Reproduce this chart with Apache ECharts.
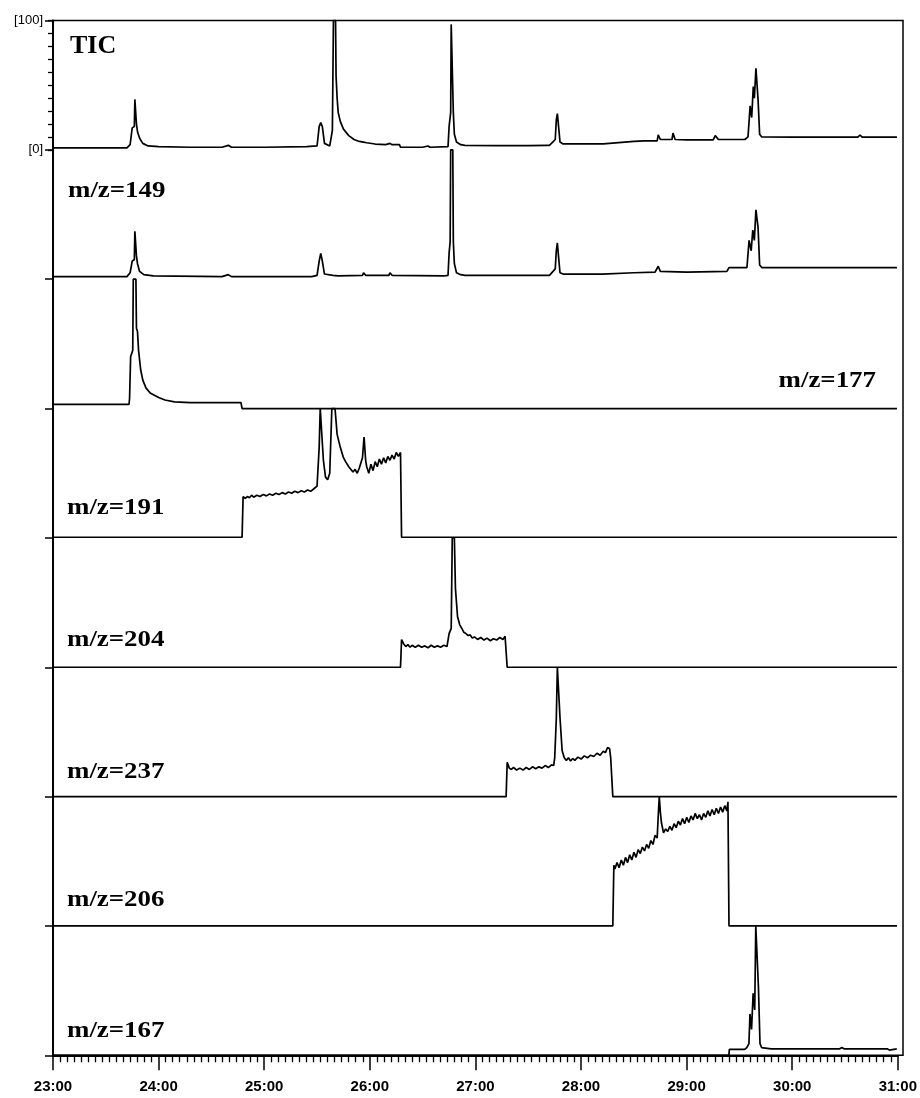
<!DOCTYPE html>
<html><head><meta charset="utf-8">
<script src="https://cdn.jsdelivr.net/npm/echarts@6/dist/echarts.min.js"></script>
<style>html,body{margin:0;padding:0;background:#fff}#c{width:920px;height:1098px}</style>
</head><body><div id="c"></div>
<script>
// ---------- DATA (time in minutes, relative intensity 0-100 per panel) ----------
const xTickLabels = ['23:00','24:00','25:00','26:00','27:00','28:00','29:00','30:00','31:00'];
const yTickLabels = ['[0]','[100]'];
const panelNames = ['TIC','m/z=149','m/z=177','m/z=191','m/z=204','m/z=237','m/z=206','m/z=167'];

const TIC = [[23.00,1.5],[23.40,1.5],[23.70,1.5],[23.73,4],[23.75,17],[23.77,18],[23.775,39],[23.785,39],[23.79,20],[23.80,14],[23.82,9],[23.85,5],[23.90,3],[24.00,2.5],[24.30,2],[24.60,2],[24.66,3.5],[24.69,2],[25.00,2],[25.40,2.5],[25.50,3],[25.52,18],[25.535,21],[25.55,18],[25.57,5],[25.62,3],[25.645,15],[25.655,100],[25.675,100],[25.68,57],[25.69,40],[25.70,29],[25.72,22],[25.75,16],[25.80,11],[25.85,8],[25.90,6.5],[25.94,6],[25.95,7.5],[25.97,5.5],[26.05,4.5],[26.15,4],[26.19,5],[26.21,4],[26.28,4],[26.29,2],[26.50,2],[26.55,3],[26.57,2],[26.74,2.5],[26.75,18],[26.765,29],[26.77,97],[26.78,97],[26.79,29],[26.80,12],[26.82,6],[26.86,4],[26.90,3.5],[27.20,3.3],[27.50,3.3],[27.68,3.5],[27.69,4.5],[27.70,3.5],[27.755,8],[27.765,23],[27.775,28],[27.785,28],[27.79,15],[27.80,6],[27.83,4.6],[28.21,4.6],[28.22,6],[28.50,6.5],[28.60,7],[28.72,7],[28.73,11.6],[28.75,8],[28.86,8],[28.87,13],[28.89,8],[29.00,7.7],[29.25,7.7],[29.27,11],[29.30,8],[29.55,8],[29.58,10],[29.60,34],[29.615,25],[29.63,49],[29.64,40],[29.655,63],[29.665,63],[29.675,39],[29.69,12],[29.71,10],[30.00,9.8],[30.62,9.8],[30.64,11.5],[30.66,9.8],[30.99,9.8]];

const MZ149 = [[23.00,2],[23.70,2],[23.73,5],[23.75,14],[23.77,15],[23.775,37],[23.785,37],[23.79,18],[23.80,12],[23.82,6],[23.86,3.5],[23.95,2.5],[24.60,2],[24.66,3.5],[24.69,2],[25.45,2],[25.50,3],[25.52,14],[25.535,20],[25.55,14],[25.57,4],[25.65,3],[25.70,2.5],[25.93,3],[25.94,5],[25.96,3],[26.18,3],[26.19,5],[26.21,3],[26.70,2.5],[26.74,3],[26.75,20],[26.76,29],[26.765,100],[26.785,100],[26.79,29],[26.80,12],[26.82,5],[26.86,3.5],[26.90,3],[27.20,3],[27.50,3],[27.70,3],[27.755,8],[27.765,22],[27.775,28],[27.785,28],[27.79,14],[27.80,5],[27.83,4],[28.20,4],[28.50,5],[28.70,5.5],[28.73,10],[28.75,6],[29.00,5.5],[29.38,6],[29.40,9],[29.57,9],[29.59,30],[29.61,22],[29.625,38],[29.64,30],[29.655,53.6],[29.665,53.6],[29.675,40],[29.69,11],[29.71,9],[30.00,9],[30.50,9],[30.99,9]];

const MZ177 = [[23.00,3.3],[23.30,3.3],[23.72,3.3],[23.725,8],[23.735,40],[23.755,45],[23.76,100],[23.785,100],[23.79,62],[23.80,59.5],[23.81,45],[23.83,30],[23.85,22],[23.88,16],[23.92,12],[24.00,8.5],[24.06,6.6],[24.15,5.2],[24.30,4.6],[24.60,4.6],[24.78,4.6],[24.79,0],[30.99,0]];

const MZ191 = [[23.00,0.5],[24.79,0.5],[24.80,32],[24.82,30.5],[24.84,32],[24.86,31],[24.88,33],[24.90,31.5],[24.93,33],[24.96,32],[24.99,33.5],[25.02,32.5],[25.05,34],[25.08,33],[25.11,34.5],[25.14,33.5],[25.17,35],[25.20,34],[25.23,35.5],[25.26,34.5],[25.29,36],[25.32,35],[25.35,36.5],[25.38,35.5],[25.41,37],[25.44,36],[25.47,38],[25.50,40],[25.52,70],[25.53,100],[25.545,100],[25.56,60],[25.58,47],[25.60,45],[25.62,50],[25.64,100],[25.67,100],[25.69,80],[25.72,70],[25.75,62],[25.77,59],[25.80,55],[25.84,51],[25.86,53],[25.88,50],[25.90,54],[25.93,62],[25.945,78],[25.96,60],[25.97,55],[25.99,50],[26.01,57],[26.03,52],[26.05,59],[26.07,55],[26.09,61],[26.11,57],[26.13,62],[26.15,58],[26.17,63],[26.19,60],[26.21,64],[26.23,61],[26.25,66],[26.27,63],[26.29,66],[26.30,0.5],[30.99,0.5]];

const MZ204 = [[23.00,0],[26.29,0],[26.30,21.4],[26.32,18],[26.34,16],[26.36,17.5],[26.38,15.5],[26.40,17],[26.43,15.5],[26.46,17],[26.49,15.5],[26.52,16.5],[26.55,15],[26.58,17],[26.61,15.5],[26.64,16.5],[26.67,15.5],[26.70,17],[26.73,16],[26.75,26],[26.77,30],[26.78,100],[26.80,100],[26.81,61],[26.83,39],[26.85,33],[26.87,30],[26.89,27],[26.91,26],[26.93,24.5],[26.95,25],[26.97,22.5],[26.99,23.5],[27.02,21.5],[27.05,23],[27.08,21],[27.11,22.5],[27.14,20.5],[27.17,22],[27.20,21],[27.23,23],[27.26,21.5],[27.28,24],[27.29,12],[27.30,0],[30.99,0]];

const MZ237 = [[23.00,0],[27.29,0],[27.30,26.5],[27.32,22],[27.34,21],[27.36,22.5],[27.39,20.5],[27.42,22],[27.45,20.5],[27.48,22.5],[27.51,21],[27.54,23],[27.57,21.5],[27.60,23],[27.63,22],[27.66,24],[27.69,22.5],[27.72,24.5],[27.74,24],[27.75,30],[27.765,60],[27.775,100],[27.79,100],[27.80,61],[27.82,35.6],[27.84,30],[27.86,28],[27.88,30],[27.90,27.5],[27.92,29.5],[27.94,28],[27.97,30.5],[28.00,29],[28.03,31.5],[28.06,30],[28.09,32],[28.12,31],[28.15,33.5],[28.18,32],[28.21,35],[28.23,34],[28.25,38],[28.27,37],[28.28,30],[28.30,0],[30.99,0]];

const MZ206 = [[23.00,0],[28.30,0],[28.305,24],[28.31,47],[28.32,44],[28.34,49],[28.36,45],[28.38,51],[28.40,47],[28.42,53],[28.44,49],[28.46,55],[28.48,51],[28.50,57],[28.52,53],[28.54,59],[28.56,56],[28.58,61],[28.60,58],[28.62,63],[28.64,60],[28.66,66],[28.68,63],[28.70,70],[28.72,68],[28.73,85],[28.74,100],[28.75,88],[28.76,80],[28.78,72],[28.80,75],[28.82,73],[28.84,77],[28.86,74],[28.88,79],[28.90,76],[28.92,81],[28.94,78],[28.96,83],[28.98,79],[29.00,84],[29.02,80],[29.04,85],[29.06,82],[29.08,87],[29.10,83],[29.12,86],[29.14,82],[29.16,87],[29.18,84],[29.20,89],[29.22,85],[29.24,90],[29.26,86],[29.28,91],[29.30,87],[29.32,92],[29.34,88],[29.36,93],[29.38,89],[29.39,96],[29.40,0],[30.99,0]];

const MZ167 = [[23.00,0],[29.40,0],[29.405,4.6],[29.55,4.6],[29.57,6],[29.59,9],[29.60,32],[29.615,20],[29.63,48],[29.645,35],[29.655,100],[29.67,100],[29.68,53],[29.695,9],[29.71,6],[29.80,5],[30.20,5],[30.45,5],[30.47,6],[30.49,5],[30.90,5],[30.92,4],[30.99,5]];

// ---------- LAYOUT / STYLE ----------
const traces = [TIC, MZ149, MZ177, MZ191, MZ204, MZ237, MZ206, MZ167];
const LEFT = 53, TOP = 20.5, PH = 129.35, W = 845;
const labelX = [70, 68, 876, 67, 67, 67, 67, 67];
const labelAlign = ['left','left','right','left','left','left','left','left'];
const labelDy = [25.5, 41, 101.8, 99.4, 101.4, 104.4, 103.4, 104.4]; // offset from panel top
const N = traces.length;

const grids = [], xAxes = [], yAxes = [], series = [], graphics = [];
for (let i = 0; i < N; i++) {
  grids.push({left: LEFT, top: TOP + PH * i, width: W, height: PH});
  const last = i === N - 1;
  xAxes.push({
    type: 'value', gridIndex: i, min: 23, max: 31, interval: 1,
    show: last,
    axisLine: {show: last, onZero: false, lineStyle: {color: '#000', width: 2}},
    axisTick: {show: last, length: 15, lineStyle: {color: '#000', width: 1.5}},
    minorTick: {show: last, splitNumber: 15, length: 7, lineStyle: {color: '#000', width: 1.3}},
    axisLabel: {show: last, margin: 24, fontFamily: '"Liberation Sans", Arial, sans-serif', fontWeight: 'bold', fontSize: 15, color: '#000',
      formatter: v => xTickLabels[Math.round(v - 23)]},
    splitLine: {show: false}, minorSplitLine: {show: false}
  });
  yAxes.push({
    type: 'value', gridIndex: i, position: 'left', min: 0, max: 100, interval: 100,
    axisLine: {show: true, onZero: false, lineStyle: {color: '#000', width: 2}},
    axisTick: {show: true, length: 8, lineStyle: {color: '#000', width: 1.5}},
    axisLabel: {show: i === 0, margin: 10, fontFamily: '"Liberation Sans", Arial, sans-serif', fontSize: 13, color: '#000',
      formatter: v => yTickLabels[v === 0 ? 0 : 1]},
    splitLine: {show: false}
  });
  series.push({
    type: 'line', xAxisIndex: i, yAxisIndex: i, data: traces[i],
    showSymbol: false, symbol: 'none', clip: false, animation: false,
    lineStyle: {color: '#000', width: 1.7}
  });
  const isTic = i === 0;
  graphics.push({
    type: 'text', x: labelX[i], y: TOP + PH * i + labelDy[i],
    scaleX: isTic ? 1 : 1.12,
    style: {text: panelNames[i], fill: '#000', align: labelAlign[i], verticalAlign: 'middle',
      font: 'bold ' + (isTic ? 26 : 24) + 'px "Liberation Serif", "Times New Roman", serif'}
  });
}
// minor ticks on the TIC intensity axis (left side)
yAxes.push({
  type: 'value', gridIndex: 0, position: 'left', offset: 0, min: 0, max: 100, interval: 10,
  axisLine: {show: false}, axisLabel: {show: false}, splitLine: {show: false},
  axisTick: {show: true, length: 5, lineStyle: {color: '#000', width: 1.3}}
});
// outer frame
grids.push({left: LEFT, top: TOP, width: 850, height: PH * N, show: true,
  borderColor: '#000', borderWidth: 1.5, backgroundColor: 'transparent'});

const chart = echarts.init(document.getElementById('c'), null, {renderer: 'canvas'});
chart.setOption({
  animation: false,
  backgroundColor: '#fff',
  grid: grids, xAxis: xAxes, yAxis: yAxes, series: series,
  graphic: graphics
});
</script></body></html>
